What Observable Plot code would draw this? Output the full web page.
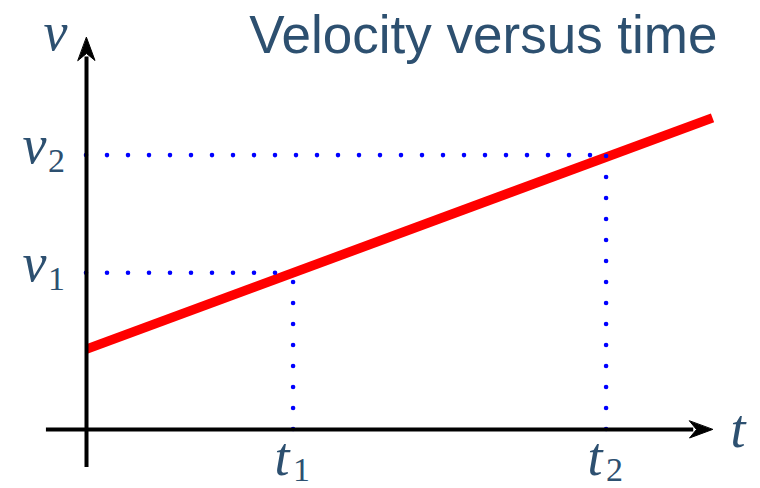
<!DOCTYPE html>
<html><head><meta charset="utf-8">
<script src="https://cdn.jsdelivr.net/npm/d3@7"></script>
<script src="https://cdn.jsdelivr.net/npm/@observablehq/plot@0.6"></script>
<style>body{margin:0;background:#fff}</style>
</head><body><div id="chart"></div>
<script>
// Data (t = time, v = velocity, arbitrary units)
const lineT = [0, 10];
const lineV = [2.05, 7.95];
const markT = [3.3, 8.3];
const markV = [4.0, 7.0];
const subLabels = ["1", "2"];
const titleText = "Velocity versus time";

const linePoints = lineT.map((t, i) => ({t, v: lineV[i]}));
const marks = markT.map((t, i) => ({t, v: markV[i], sub: subLabels[i]}));

const labelColor = "#2d5070";
const mathFont = "Liberation Serif, Times New Roman, serif";

const stealth = {
  draw(ctx) {
    ctx.moveTo(0, 0);
    ctx.lineTo(8.5, 23);
    ctx.lineTo(0, 16);
    ctx.lineTo(-8.5, 23);
    ctx.closePath();
  }
};

const chart = Plot.plot({
  width: 760,
  height: 488,
  margin: 0,
  x: {domain: [0, 10], range: [86, 712], axis: null},
  y: {domain: [0, 10], range: [429, 37], axis: null},
  marks: [
    // red velocity line
    Plot.line(linePoints, {x: "t", y: "v", stroke: "#ff0000", strokeWidth: 9.5, strokeLinecap: "butt"}),
    // dotted guides
    Plot.ruleY(marks, {y: "v", x1: 0, x2: "t", stroke: "#0000ff", strokeWidth: 4.6, strokeDasharray: "0 21", strokeLinecap: "round"}),
    Plot.ruleX(marks, {x: "t", y1: 0, y2: "v", stroke: "#0000ff", strokeWidth: 4.6, strokeDasharray: "0 21", strokeLinecap: "round"}),
    // axes
    Plot.ruleY([0], {x1: -0.64, x2: 9.7, stroke: "black", strokeWidth: 4}),
    Plot.ruleX([0], {y1: -0.97, y2: 9.5, stroke: "black", strokeWidth: 4}),
    Plot.vector([{t: 0, v: 10, r: 0}, {t: 10, v: 0, r: 90}], {x: "t", y: "v", rotate: "r", length: 0, anchor: "start", shape: stealth, fill: "black", stroke: "black", strokeWidth: 1}),
    // axis labels
    Plot.text(["v"], {x: 0, y: 10, text: d => d, dx: -31, dy: 12, textAnchor: "middle", lineAnchor: "bottom", fontSize: 54, fontStyle: "italic", fontFamily: mathFont, fill: labelColor}),
    Plot.text(["t"], {x: 10, y: 0, text: d => d, dx: 25.5, dy: 17, textAnchor: "middle", lineAnchor: "bottom", fontSize: 54, fontStyle: "italic", fontFamily: mathFont, fill: labelColor}),
    // v_i labels
    Plot.text(marks, {x: 0, y: "v", text: () => "v", dx: -52, dy: 8, textAnchor: "middle", lineAnchor: "bottom", fontSize: 54, fontStyle: "italic", fontFamily: mathFont, fill: labelColor}),
    Plot.text(marks, {x: 0, y: "v", text: "sub", dx: -30, dy: 17, textAnchor: "middle", lineAnchor: "bottom", fontSize: 34, fontFamily: mathFont, fill: labelColor}),
    // t_i labels
    Plot.text(marks, {x: "t", y: 0, text: () => "t", dx: -11, dy: 45, textAnchor: "middle", lineAnchor: "bottom", fontSize: 54, fontStyle: "italic", fontFamily: mathFont, fill: labelColor}),
    Plot.text(marks, {x: "t", y: 0, text: "sub", dx: 8.5, dy: 51, textAnchor: "middle", lineAnchor: "bottom", fontSize: 34, fontFamily: mathFont, fill: labelColor}),
    // title
    Plot.text([titleText], {frameAnchor: "top-right", text: d => d, dx: -43, dy: 52, textAnchor: "end", lineAnchor: "bottom", fontSize: 53, fontFamily: "Liberation Sans, Arial, sans-serif", fill: labelColor})
  ]
});
document.getElementById("chart").appendChild(chart);
</script>
</body></html>
